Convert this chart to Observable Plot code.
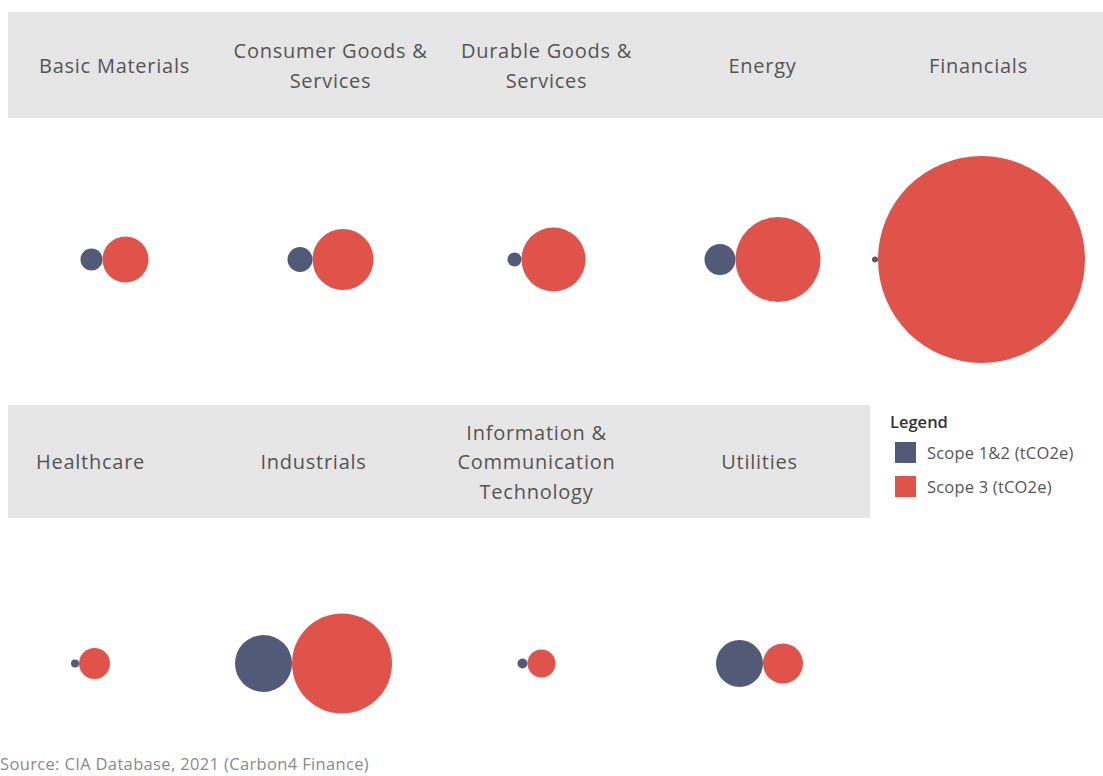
<!DOCTYPE html>
<html>
<head>
<meta charset="utf-8">
<script src="https://cdn.jsdelivr.net/npm/d3@7"></script>
<script src="https://cdn.jsdelivr.net/npm/@observablehq/plot@0.6"></script>
<style>
  html, body { margin: 0; padding: 0; background: #fff; }
  #page { position: relative; width: 1103px; height: 776px; overflow: hidden; font-family: "Open Sans", sans-serif; }
  .row { position: absolute; left: 0; }
  #legend { position: absolute; left: 890px; top: 410px; color: #555; font-size: 16.5px; letter-spacing: 0.2px; }
  #legend .title { color: #333; font-weight: 600; margin-bottom: 2px; letter-spacing: 0; }
  #legend .item { display: flex; align-items: center; height: 34px; }
  #legend .sw { width: 21px; height: 21px; margin: 0 11px 0 5px; }
  #caption { position: absolute; left: 0px; top: 752px; color: #8a8a8a; font-size: 16.5px; letter-spacing: 0.35px; white-space: nowrap; }
</style>
</head>
<body>
<div id="page">
  <div id="row1" class="row" style="top:0px"></div>
  <div id="row2" class="row" style="top:400px"></div>
  <div id="legend"></div>
  <div id="caption">Source: CIA Database, 2021 (Carbon4 Finance)</div>
</div>
<script>
// ---- data ----
const sectorsTop = ["Basic Materials", "Consumer Goods & Services", "Durable Goods & Services", "Energy", "Financials"];
const labelsTop = ["Basic Materials", "Consumer Goods &\nServices", "Durable Goods &\nServices", "Energy", "Financials"];
const scope12Top = [121, 156, 49, 240, 9];
const scope3Top = [529, 930, 1024, 1806, 10712];

const sectorsBottom = ["Healthcare", "Industrials", "Information & Communication Technology", "Utilities"];
const labelsBottom = ["Healthcare", "Industrials", "Information &\nCommunication\nTechnology", "Utilities"];
const scope12Bottom = [16, 812, 25, 552];
const scope3Bottom = [240, 2500, 196, 400];

const scopeNames = ["Scope 1&2 (tCO2e)", "Scope 3 (tCO2e)"];

// ---- styles / layout ----
const scopeColors = ["#535a77", "#e0534a"];
const headerFill = "#e6e6e6";
const maxValue = d3.max([...scope3Top, ...scope3Bottom, ...scope12Top, ...scope12Bottom]);
const rScaleOptions = {type: "sqrt", domain: [0, maxValue], range: [0, 103.5]};
const rScale = Plot.scale({r: rScaleOptions});

function row({sectors, labels, s12, s3, xRange, bandLeft, bandRight, height, headerTop, headerBottom, circleY}) {
  const data = sectors.map((s, i) => ({sector: s, label: labels[i], s12: s12[i], s3: s3[i]}));
  const width = 1103;
  const marks = [
    Plot.rect([0], {y1: () => headerTop, y2: () => headerBottom, fill: headerFill}),
    Plot.text(data, {
      x: "sector", y: () => (headerTop + headerBottom) / 2, text: "label", dy: -2,
      fontSize: 20, lineHeight: 1.47, fill: "#555", fontFamily: "Open Sans"
    })
  ];
  for (const d of data) {
    const r12 = rScale.apply(d.s12), r3 = rScale.apply(d.s3);
    // pair of touching circles, the pair centred on its column
    marks.push(Plot.dot([d], {x: "sector", y: () => circleY, r: "s12", fill: scopeColors[0], dx: -r3}));
    marks.push(Plot.dot([d], {x: "sector", y: () => circleY, r: "s3", fill: scopeColors[1], dx: r12}));
  }
  return Plot.plot({
    width, height,
    marginLeft: bandLeft, marginRight: width - bandRight, marginTop: 0, marginBottom: 0,
    x: {type: "point", domain: sectors, range: xRange, padding: 0, axis: null},
    y: {type: "linear", domain: [0, height], range: [0, height], axis: null},
    r: rScaleOptions,
    style: {fontFamily: "Open Sans", background: "transparent", letterSpacing: "0.75px"},
    marks
  });
}

document.getElementById("row1").append(row({
  sectors: sectorsTop, labels: labelsTop, s12: scope12Top, s3: scope3Top,
  xRange: [114, 978], bandLeft: 8, bandRight: 1103, height: 400,
  headerTop: 12, headerBottom: 118, circleY: 259
}));
document.getElementById("row2").append(row({
  sectors: sectorsBottom, labels: labelsBottom, s12: scope12Bottom, s3: scope3Bottom,
  xRange: [89, 759.5], bandLeft: 8, bandRight: 870, height: 340,
  headerTop: 5, headerBottom: 118, circleY: 263
}));

// legend
const legend = document.getElementById("legend");
legend.innerHTML = `<div class="title">Legend</div>` + scopeNames.map((n, i) =>
  `<div class="item"><div class="sw" style="background:${scopeColors[i]}"></div><span>${n}</span></div>`).join("");
</script>
</body>
</html>
